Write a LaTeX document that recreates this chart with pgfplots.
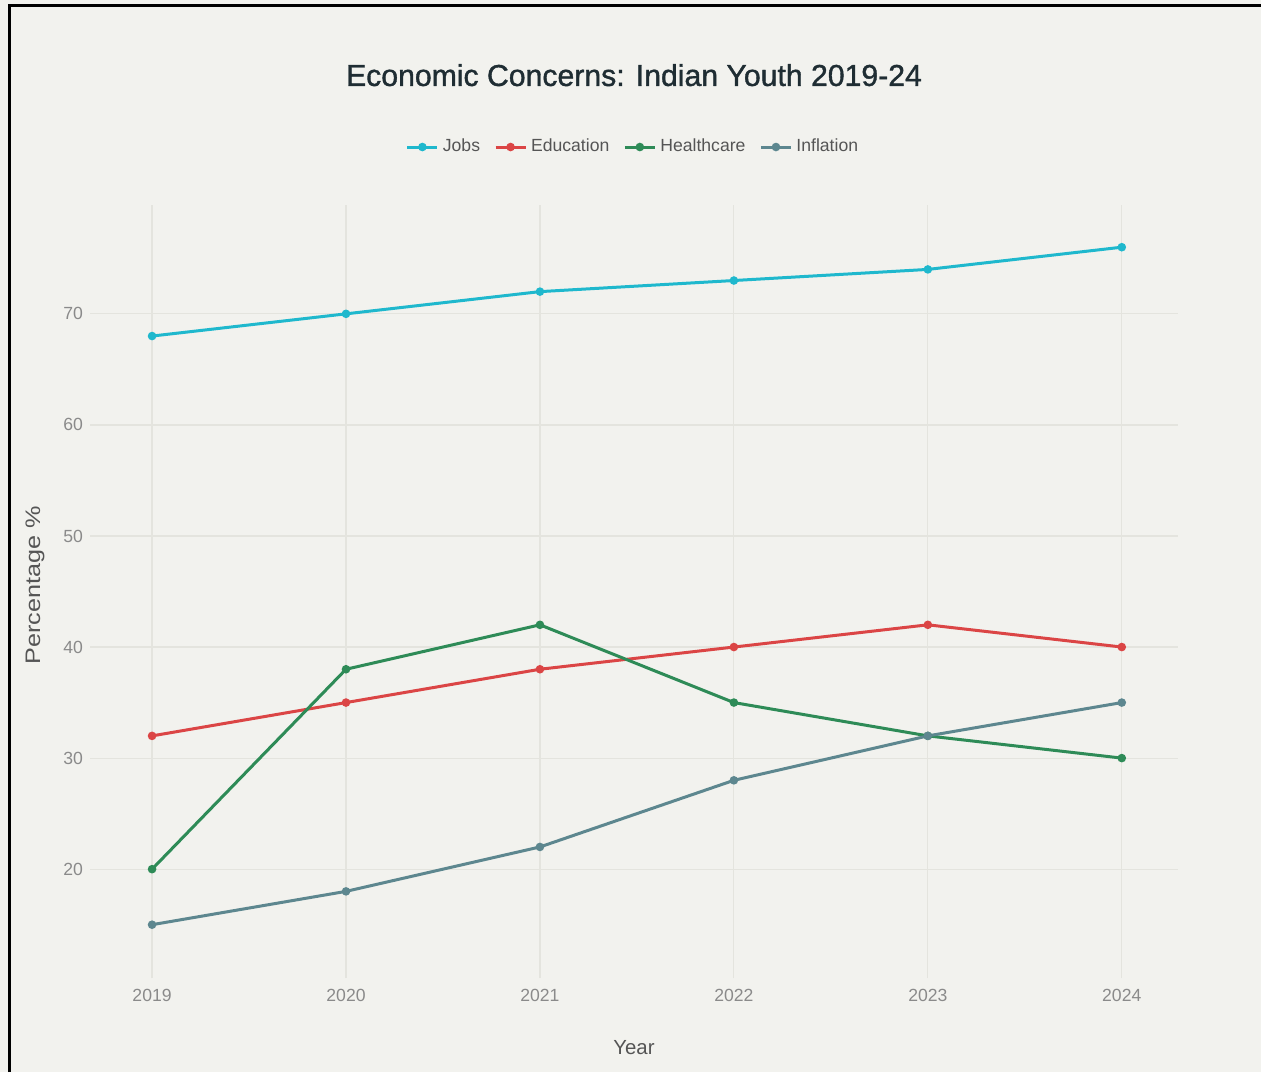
\documentclass[border=0pt]{standalone}
\usepackage{fontspec}
\setmainfont{Liberation Sans}
\newfontfamily\titlefont[FakeBold=1.2]{Liberation Sans}
\usepackage{pgfplots}
\pgfplotsset{compat=1.18}
\definecolor{bg}{HTML}{F2F2EE}
\definecolor{gridc}{HTML}{E4E4DE}
\definecolor{ticktext}{HTML}{8A8A8A}
\definecolor{labeltext}{HTML}{555555}
\definecolor{titletext}{HTML}{1F2D33}
\definecolor{cjobs}{HTML}{1FB8CD}
\definecolor{cedu}{HTML}{DB4545}
\definecolor{cheal}{HTML}{2E8B57}
\definecolor{cinf}{HTML}{5D878F}
\begin{document}
\begin{tikzpicture}[x=1pt,y=1pt]
\fill[bg] (0,0) rectangle (630.5,536);
\begin{axis}[
  at={(45pt,47pt)}, anchor=south west,
  scale only axis, width=544pt, height=386.5pt,
  xmin=2018.68, xmax=2024.29,
  ymin=10.2, ymax=79.8,
  xtick={2019,2020,2021,2022,2023,2024},
  ytick={20,30,40,50,60,70},
  /pgf/number format/assume math mode=true,
  x tick label style={/pgf/number format/1000 sep={}, font=\fontsize{8.8}{10}\selectfont, text=ticktext, yshift=-2pt},
  y tick label style={font=\fontsize{8.8}{10}\selectfont, text=ticktext},
  axis line style={draw=none},
  major tick length=0pt,
  grid=major,
  grid style={color=gridc, line width=0.6pt},
  xlabel={Year},
  ylabel={\scalebox{1.2}[1]{Percentage \%}},
  every axis x label/.style={at={(axis description cs:0.5,-0.0906)}, anchor=center, font=\fontsize{10.2}{12}\selectfont, text=labeltext},
  every axis y label/.style={at={(axis description cs:-0.0505,0.508)}, anchor=center, rotate=90, font=\fontsize{10.5}{12}\selectfont, text=labeltext},
  title={Economic Concerns: Indian Youth 2019-24},
  every axis title/.style={at={(axis description cs:0.5,1.168)}, anchor=center, font=\titlefont\fontsize{15.1}{18}\selectfont, text=titletext},
  legend columns=4,
  legend style={at={(axis description cs:0.5,1.075)}, anchor=center, draw=none, fill=none, font=\fontsize{8.8}{10}\selectfont, text=labeltext, /tikz/every even column/.append style={column sep=5pt}},
  legend image code/.code={\draw[mark repeat=2,mark phase=2] plot coordinates {(0pt,0pt)(7.5pt,0pt)(15pt,0pt)};},
  every axis plot/.append style={line width=1.5pt, mark=*, mark size=1.35pt},
]
\addplot[color=cjobs] coordinates {(2019,68)(2020,70)(2021,72)(2022,73)(2023,74)(2024,76)};
\addlegendentry{Jobs}
\addplot[color=cedu] coordinates {(2019,32)(2020,35)(2021,38)(2022,40)(2023,42)(2024,40)};
\addlegendentry{Education}
\addplot[color=cheal] coordinates {(2019,20)(2020,38)(2021,42)(2022,35)(2023,32)(2024,30)};
\addlegendentry{Healthcare}
\addplot[color=cinf] coordinates {(2019,15)(2020,18)(2021,22)(2022,28)(2023,32)(2024,35)};
\addlegendentry{Inflation}
\end{axis}
\draw[black, line width=1.5pt] (4.75,0) -- (4.75,533.25);
\draw[black, line width=1.5pt] (4,533.25) -- (630.5,533.25);
\pgfresetboundingbox
\path (0,0) rectangle (630.5,536);
\end{tikzpicture}
\end{document}
